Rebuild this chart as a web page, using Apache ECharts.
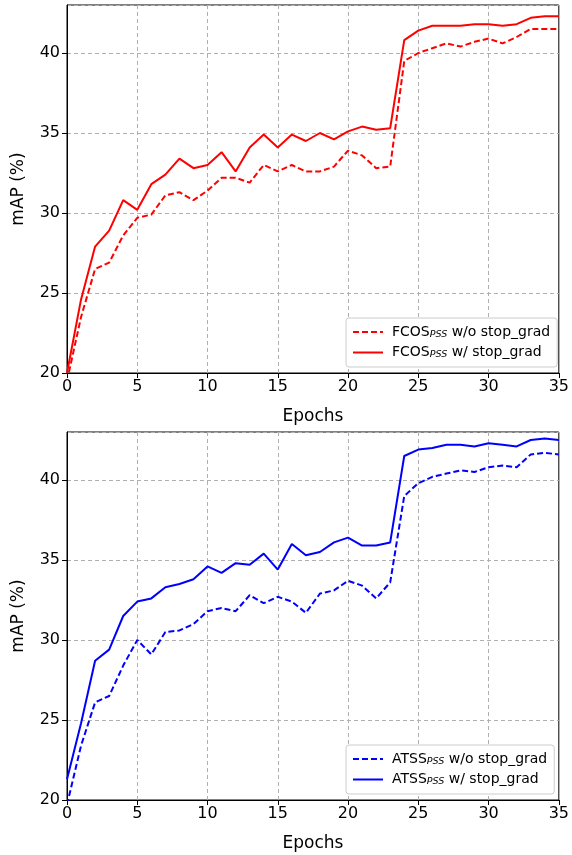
<!DOCTYPE html>
<html>
<head>
<meta charset="utf-8">
<script src="https://cdn.jsdelivr.net/npm/echarts@6/dist/echarts.min.js"></script>
<style>
  html, body { margin: 0; padding: 0; background: #fff; }
  #main { width: 572px; height: 855px; }
</style>
</head>
<body>
<div id="main"></div>
<script>
// epochs 0..35
const epochs = [0,1,2,3,4,5,6,7,8,9,10,11,12,13,14,15,16,17,18,19,20,21,22,23,24,25,26,27,28,29,30,31,32,33,34,35];

// FCOS (top)
const fcosNoStop = [19.5,23.5,26.5,26.9,28.6,29.7,29.9,31.1,31.3,30.8,31.4,32.2,32.2,31.9,33.0,32.6,33.0,32.6,32.6,32.9,33.9,33.6,32.8,32.9,39.5,40.0,40.3,40.6,40.4,40.7,40.9,40.6,41.0,41.5,41.5,41.5];
const fcosStop = [20.0,24.6,27.9,28.9,30.8,30.2,31.8,32.4,33.4,32.8,33.0,33.8,32.6,34.1,34.9,34.1,34.9,34.5,35.0,34.6,35.1,35.4,35.2,35.3,40.8,41.4,41.7,41.7,41.7,41.8,41.8,41.7,41.8,42.2,42.3,42.3];

// ATSS (bottom)
const atssNoStop = [19.7,23.4,26.1,26.5,28.4,30.0,29.1,30.5,30.6,31.0,31.8,32.0,31.8,32.8,32.3,32.7,32.4,31.7,32.9,33.1,33.7,33.4,32.6,33.6,39.0,39.8,40.2,40.4,40.6,40.5,40.8,40.9,40.8,41.6,41.7,41.6];
const atssStop = [21.3,24.8,28.7,29.4,31.5,32.4,32.6,33.3,33.5,33.8,34.6,34.2,34.8,34.7,35.4,34.4,36.0,35.3,35.5,36.1,36.4,35.9,35.9,36.1,41.5,41.9,42.0,42.2,42.2,42.1,42.3,42.2,42.1,42.5,42.6,42.5];

const pairs = (ys) => epochs.map((e, i) => [e, ys[i]]);

const font = 'DejaVu Sans';
const gridLine = { show: true, lineStyle: { color: '#b0b0b0', type: [4, 3], width: 1 } };

function xAxisFor(idx) {
  return {
    type: 'value', gridIndex: idx, min: 0, max: 35, interval: 5,
    name: 'Epochs', nameLocation: 'middle', nameGap: 35,
    nameTextStyle: { fontFamily: font, fontSize: 17, color: '#000' },
    axisLine: { show: true, lineStyle: { color: '#000', width: 1 } },
    axisTick: { show: true, length: 5, lineStyle: { color: '#000' } },
    axisLabel: { fontFamily: font, fontSize: 16, color: '#000', margin: 6 },
    splitLine: gridLine
  };
}
function yAxisFor(idx) {
  return {
    type: 'value', gridIndex: idx, min: 20, max: 43, interval: 5,
    name: 'mAP (%)', nameLocation: 'middle', nameGap: 40,
    nameTextStyle: { fontFamily: font, fontSize: 17, color: '#000' },
    axisLine: { show: true, lineStyle: { color: '#000', width: 1 } },
    axisTick: { show: true, length: 5, lineStyle: { color: '#000' } },
    axisLabel: { fontFamily: font, fontSize: 16, color: '#000', margin: 7, showMaxLabel: false },
    splitLine: gridLine
  };
}

function lineSeries(name, ys, color, dashed, idx) {
  return {
    name: name, type: 'line', xAxisIndex: idx, yAxisIndex: idx,
    data: pairs(ys), symbol: 'none', clip: true,
    lineStyle: { color: color, width: 2, type: dashed ? [6, 3] : 'solid' },
    itemStyle: { color: color }
  };
}

const rich = {
  a: { fontFamily: font, fontSize: 14, color: '#000' },
  s: { fontFamily: font, fontSize: 9.5, fontStyle: 'italic', color: '#000', padding: [5, 0, 0, 0] }
};
const legendFmt = (n) => {
  const m = n.match(/^(\w+)PSS(.*)$/);
  return '{a|' + m[1] + '}{s|PSS}{a|' + m[2] + '}';
};

function legendFor(top, names) {
  return {
    data: names, orient: 'vertical', left: 346, top: top,
    itemWidth: 30, itemHeight: 12, itemGap: 6,
    padding: [7, 7, 7, 6],
    backgroundColor: '#fff', borderColor: '#ccc', borderWidth: 1, borderRadius: 3,
    itemStyle: { color: 'rgba(0,0,0,0)', borderColor: 'rgba(0,0,0,0)', borderWidth: 0 },
    formatter: legendFmt,
    textStyle: { rich: rich, padding: [0, 0, 0, 4] }
  };
}

const chart = echarts.init(document.getElementById('main'));
chart.setOption({
  animation: false,
  backgroundColor: '#fff',
  grid: [
    { left: 67, right: 12, top: 5, height: 368, show: true, borderColor: '#000', borderWidth: 1 },
    { left: 67, right: 12, top: 432, height: 368, show: true, borderColor: '#000', borderWidth: 1 }
  ],
  xAxis: [xAxisFor(0), xAxisFor(1)],
  yAxis: [yAxisFor(0), yAxisFor(1)],
  legend: [
    legendFor(318, ['FCOSPSS w/o stop_grad', 'FCOSPSS w/ stop_grad']),
    legendFor(745, ['ATSSPSS w/o stop_grad', 'ATSSPSS w/ stop_grad'])
  ],
  series: [
    lineSeries('FCOSPSS w/o stop_grad', fcosNoStop, '#ff0000', true, 0),
    lineSeries('FCOSPSS w/ stop_grad', fcosStop, '#ff0000', false, 0),
    lineSeries('ATSSPSS w/o stop_grad', atssNoStop, '#0000ff', true, 1),
    lineSeries('ATSSPSS w/ stop_grad', atssStop, '#0000ff', false, 1)
  ]
});
</script>
</body>
</html>
